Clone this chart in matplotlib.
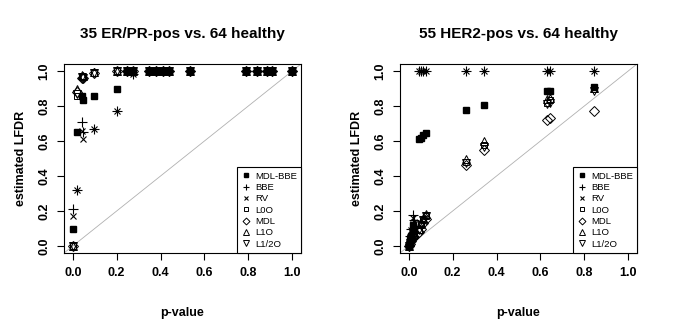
import matplotlib
matplotlib.use("Agg")
import matplotlib.pyplot as plt

plt.rcParams['font.family'] = ['Liberation Sans', 'DejaVu Sans']

methods = ['MDL-BBE', 'BBE', 'RV', 'L0O', 'MDL', 'L1O', 'L1/2O']

# 35 ER/PR-pos vs. 64 healthy
p_er = [0.000, 0.018, 0.044, 0.046, 0.097, 0.202, 0.249, 0.273, 0.349, 0.380,
        0.410, 0.440, 0.535, 0.790, 0.840, 0.885, 0.910, 1.000]
er_mdlbbe = [0.10, 0.65, 0.855, 0.835, 0.855, 0.90, 1, 1, 1, 1, 1, 1, 1, 1, 1, 1, 1, 1]
er_bbe = [0.21, 0.32, 0.71, 0.65, 0.67, 0.77, 1, 0.985, 1, 1, 1, 1, 1, 1, 1, 1, 1, 1]
er_rv = [0.17, 0.32, 0.66, 0.61, 0.67, 0.77, 1, 0.985, 1, 1, 1, 1, 1, 1, 1, 1, 1, 1]
er_l0o = [0.00, 0.86, 0.97, 0.965, 0.99, 1, 1, 1, 1, 1, 1, 1, 1, 1, 1, 1, 1, 1]
er_mdl = [0.00, 0.88, 0.96, 0.96, 0.99, 1, 1, 1, 1, 1, 1, 1, 1, 1, 1, 1, 1, 1]
er_l1o = [0.00, 0.90, 0.975, 0.97, 0.995, 1, 1, 1, 1, 1, 1, 1, 1, 1, 1, 1, 1, 1]
er_l12o = [0.00, 0.87, 0.965, 0.96, 0.99, 1, 1, 1, 1, 1, 1, 1, 1, 1, 1, 1, 1, 1]

# 55 HER2-pos vs. 64 healthy
p_her = [0.000, 0.005, 0.010, 0.018, 0.025, 0.045, 0.055, 0.065, 0.080,
         0.262, 0.342, 0.628, 0.643, 0.842]
her_mdlbbe = [0.00, 0.04, 0.06, 0.12, 0.10, 0.61, 0.62, 0.635, 0.645, 0.775, 0.807, 0.883, 0.883, 0.906]
her_bbe = [0.00, 0.06, 0.10, 0.175, 0.15, 1, 1, 1, 1, 1, 1, 1, 1, 1]
her_rv = [0.00, 0.05, 0.09, 0.16, 0.14, 1, 1, 1, 1, 1, 1, 1, 1, 1]
her_l0o = [0.00, 0.02, 0.04, 0.07, 0.06, 0.09, 0.12, 0.15, 0.17, 0.48, 0.575, 0.82, 0.835, 0.895]
her_mdl = [0.00, 0.01, 0.03, 0.05, 0.05, 0.08, 0.10, 0.13, 0.155, 0.465, 0.55, 0.72, 0.73, 0.77]
her_l1o = [0.00, 0.03, 0.05, 0.08, 0.07, 0.10, 0.13, 0.16, 0.185, 0.495, 0.60, 0.84, 0.845, 0.905]
her_l12o = [0.00, 0.02, 0.04, 0.07, 0.06, 0.09, 0.12, 0.15, 0.17, 0.475, 0.565, 0.81, 0.82, 0.885]

ticks = [0.0, 0.2, 0.4, 0.6, 0.8, 1.0]

# marker style per method (R pch 15, 3, 4, 0, 5, 2, 6)
styles = [
    dict(marker='s', ms=4.8, mfc='black', mec='black'),
    dict(marker='+', ms=7, mec='black', mew=0.8),
    dict(marker='x', ms=5, mec='black', mew=0.8),
    dict(marker='s', ms=5, mfc='none', mec='black', mew=0.7),
    dict(marker='D', ms=5, mfc='none', mec='black', mew=0.7),
    dict(marker='^', ms=6, mfc='none', mec='black', mew=0.7),
    dict(marker='v', ms=6, mfc='none', mec='black', mew=0.7),
]

fig = plt.figure(figsize=(6.76, 3.33), dpi=100)
ax1 = fig.add_axes([64 / 676, 80 / 333, 237 / 676, 189 / 333])
ax2 = fig.add_axes([400 / 676, 80 / 333, 237 / 676, 189 / 333])

panels = [
    (ax1, '35 ER/PR-pos vs. 64 healthy', p_er,
     [er_mdlbbe, er_bbe, er_rv, er_l0o, er_mdl, er_l1o, er_l12o]),
    (ax2, '55 HER2-pos vs. 64 healthy', p_her,
     [her_mdlbbe, her_bbe, her_rv, her_l0o, her_mdl, her_l1o, her_l12o]),
]

for ax, title, p, series in panels:
    ax.axline((0, 0), (1, 1), color='#b0b0b0', lw=0.6, zorder=1)
    for name, vals, st in zip(methods, series, styles):
        ax.plot(p, vals, linestyle='none', label=name, zorder=3, **st)
    ax.set_xlim(-0.04, 1.04)
    ax.set_ylim(-0.04, 1.04)
    ax.set_xticks(ticks)
    ax.set_yticks(ticks)
    ax.set_xticklabels([f'{t:.1f}' for t in ticks], fontsize=9, fontweight='bold')
    ax.set_yticklabels([f'{t:.1f}' for t in ticks], fontsize=9, fontweight='bold',
                       rotation=90, va='center')
    ax.tick_params(direction='out', length=5, width=0.8, pad=5)
    for s in ax.spines.values():
        s.set_linewidth(0.8)
    ax.set_title(title, fontsize=11, fontweight='bold', pad=19)
    ax.set_xlabel('p-value', fontsize=9, fontweight='bold', labelpad=20)
    ax.set_ylabel('estimated LFDR', fontsize=9, fontweight='bold', labelpad=8)

    # small legend markers
    handles = []
    for name, st in zip(methods, styles):
        st2 = dict(st)
        st2['ms'] = st['ms'] * 0.7
        h, = ax.plot([], [], linestyle='none', label=name, **st2)
        handles.append(h)
    leg = ax.legend(handles=handles, loc='lower right', fontsize=6.8, frameon=True,
                    fancybox=False, borderaxespad=0, handlelength=1.0,
                    handletextpad=0.4, labelspacing=0.25, borderpad=0.45)
    leg.get_frame().set_edgecolor('black')
    leg.get_frame().set_linewidth(0.8)
    leg.get_frame().set_alpha(1)

plt.savefig('out.png', dpi=100)
